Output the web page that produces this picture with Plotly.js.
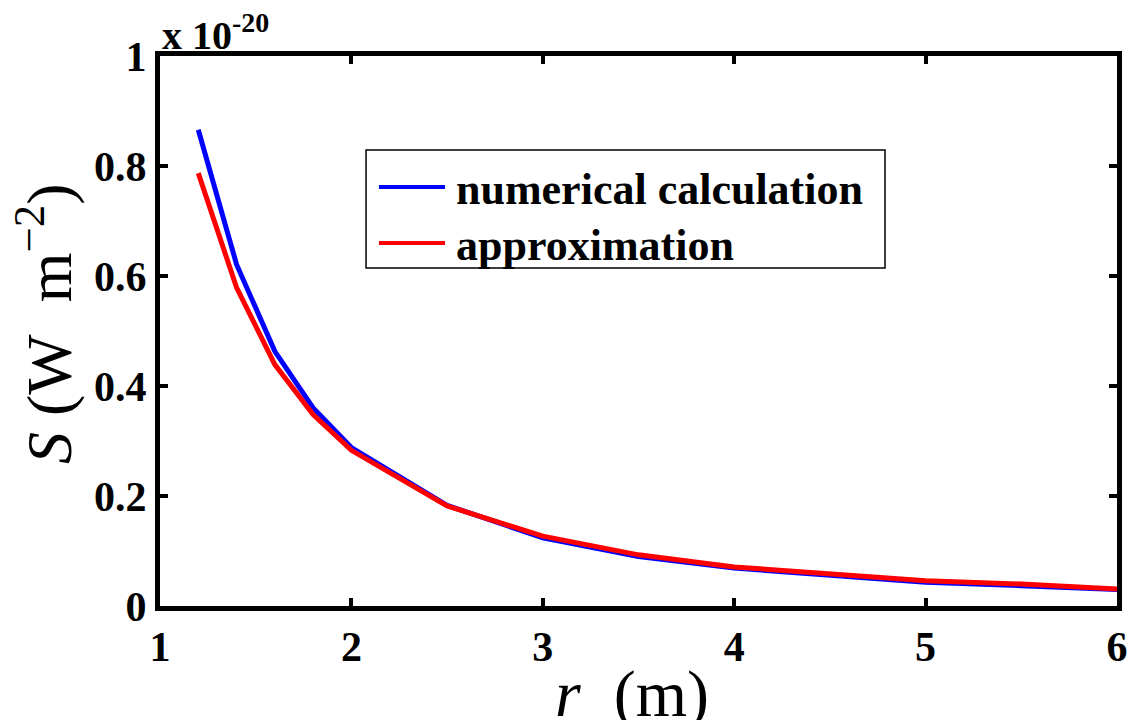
<!DOCTYPE html>
<html>
<head>
<meta charset="utf-8">
<script src="https://cdn.plot.ly/plotly-3.0.1.min.js"></script>
<style>
  html, body { margin: 0; padding: 0; background: #ffffff; }
  #plot { width: 1134px; height: 720px; }
</style>
</head>
<body>
<div id="plot"></div>
<script>
//Distance from the source (m)
var r = [1.2, 1.4, 1.6, 1.8, 2, 2.5, 3, 3.5, 4, 4.5, 5, 5.5, 6];
//Poynting flux S, in units of 1e-20 W m^-2
var numerical = [0.866, 0.621, 0.463, 0.360, 0.288, 0.183, 0.124, 0.090, 0.069, 0.056, 0.043, 0.037, 0.030];
var approx = [0.787, 0.579, 0.439, 0.348, 0.283, 0.182, 0.127, 0.093, 0.071, 0.058, 0.046, 0.040, 0.031];

var seriesNames = ["numerical calculation", "approximation"];
var seriesColors = ["#0000ff", "#ff0000"];
var xTicks = [1, 2, 3, 4, 5, 6];
var yTicks = [0, 0.2, 0.4, 0.6, 0.8, 1];

var serif = "Liberation Serif";
var boldFont = {family: serif, size: 42, color: "#000000", weight: "bold"};
var legendFont = {family: serif, size: 44, color: "#000000", weight: "bold"};
var titleFont = {family: serif, size: 66, color: "#000000"};

var data = [
  { x: r, y: numerical, mode: "lines", type: "scatter", name: seriesNames[0],
    line: {color: seriesColors[0], width: 5} },
  { x: r, y: approx, mode: "lines", type: "scatter", name: seriesNames[1],
    line: {color: seriesColors[1], width: 5} }
];

//Hand-drawn legend box, the way MATLAB lays it out (long line samples)
var legX0 = 0.2153, legX1 = 0.7576, legY0 = 0.6145, legY1 = 0.829;
var rowY = [0.7618, 0.66];
var shapes = [
  { type: "rect", xref: "paper", yref: "paper", x0: legX0, x1: legX1, y0: legY0, y1: legY1,
    line: {color: "#000000", width: 1.5}, fillcolor: "#ffffff", layer: "below" }
];
var annotations = [];
for (var i = 0; i < seriesNames.length; i++) {
  shapes.push({ type: "line", xref: "paper", yref: "paper", x0: 0.2288, x1: 0.2978,
    y0: rowY[i], y1: rowY[i], line: {color: seriesColors[i], width: 4} });
  annotations.push({ xref: "paper", yref: "paper", x: 0.3073, y: rowY[i] - 0.005,
    xanchor: "left", yanchor: "middle", showarrow: false,
    text: seriesNames[i], font: legendFont });
}

//Axis titles and the exponent label
annotations.push({ xref: "paper", yref: "paper", x: 0.493, y: -0.16,
  xanchor: "center", yanchor: "middle", showarrow: false,
  text: "<i>r</i>\u00a0\u00a0(m)", font: titleFont });
annotations.push({ xref: "paper", yref: "paper", x: -0.120, y: 0.513,
  xanchor: "center", yanchor: "middle", showarrow: false, textangle: -90,
  text: "<i>S</i>\u00a0(W\u00a0\u00a0m<sup>\u22122</sup>)", font: {family: serif, size: 64, color: "#000000"} });
annotations.push({ xref: "paper", yref: "paper", x: 0, y: 1,
  xanchor: "left", yanchor: "bottom", showarrow: false, yshift: -4,
  text: "x 10<sup>-20</sup>", font: {family: serif, size: 40, color: "#000000", weight: "bold"} });

var axisCommon = {
  showgrid: false, zeroline: false, showline: true, mirror: "ticks",
  linecolor: "#000000", linewidth: 5,
  ticks: "inside", ticklen: 8, tickwidth: 4, tickcolor: "#000000",
  tickfont: boldFont
};

var layout = {
  width: 1134, height: 720,
  margin: {l: 160, r: 17, t: 56, b: 114},
  paper_bgcolor: "#ffffff", plot_bgcolor: "#ffffff",
  showlegend: false,
  xaxis: Object.assign({}, axisCommon, { range: [1, 6], tickvals: xTicks, ticktext: xTicks.map(String) }),
  yaxis: Object.assign({}, axisCommon, { range: [0, 1], tickvals: yTicks, ticktext: yTicks.map(String) }),
  shapes: shapes,
  annotations: annotations
};

Plotly.newPlot("plot", data, layout, {displayModeBar: false, staticPlot: true});
</script>
</body>
</html>
